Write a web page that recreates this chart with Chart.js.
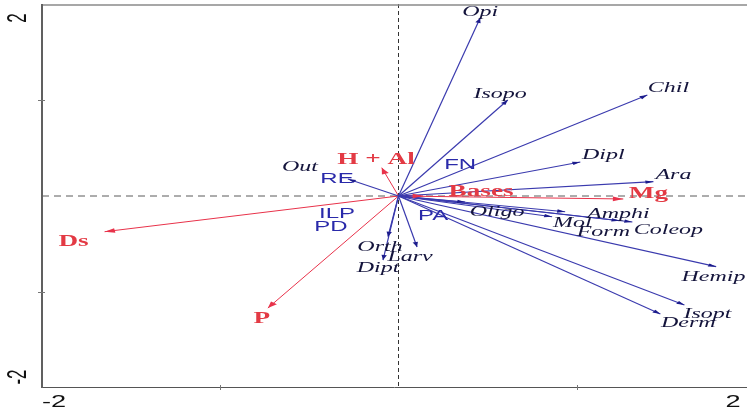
<!DOCTYPE html>
<html>
<head>
<meta charset="utf-8">
<script src="https://cdn.jsdelivr.net/npm/chart.js@4/dist/chart.umd.min.js"></script>
<style>
  html, body { margin: 0; padding: 0; background: #fff; }
  #wrap { width: 747px; height: 411px; }
</style>
</head>
<body>
<div id="wrap"><canvas id="myChart" width="747" height="411"></canvas></div>
<script>
// variáveis ambientais (setas vermelhas)
const envNames = ['Ds', 'P', 'H + Al', 'Bases', 'Mg'];
const envX = [-1.649, -0.733, -0.094, 0.138, 1.261];
const envY = [-0.372, -1.167, 0.295, 0.0, -0.031];
const envLabelX = [-1.823, -0.767, -0.126, 0.463, 1.402];
const envLabelY = [-0.479, -1.281, 0.375, 0.042, 0.021];

// grupos da fauna (setas azuis)
const taxaNames = ['Opi', 'Isopo', 'Chil', 'Dipl', 'Ara', 'Oligo', 'Amphi', 'Mol', 'Form',
                   'Coleop', 'Hemip', 'Isopt', 'Derm', 'Out', 'Orth', 'Dipt', 'Larv'];
const taxaX = [0.458, 0.613, 1.396, 1.020, 1.430, 0.374, 0.935, 0.862, 1.240,
               1.312, 1.782, 1.604, 1.469, -0.284, -0.059, -0.087, 0.104];
const taxaY = [1.854, 1.000, 1.052, 0.354, 0.149, -0.063, -0.164, -0.216, -0.258,
               -0.271, -0.736, -1.135, -1.229, 0.177, -0.424, -0.667, -0.531];
const taxaLabelX = [0.458, 0.570, 1.514, 1.149, 1.542, 0.553, 1.233, 0.975, 1.149,
                    1.514, 1.767, 1.733, 1.626, -0.553, -0.104, -0.115, 0.065];
const taxaLabelY = [1.917, 1.062, 1.125, 0.427, 0.219, -0.167, -0.188, -0.281, -0.375,
                    -0.354, -0.844, -1.229, -1.323, 0.302, -0.531, -0.750, -0.635];

// sistemas de uso (só rótulo)
const siteNames = ['RE', 'FN', 'ILP', 'PD', 'PA'];
const siteX = [-0.345, 0.346, -0.345, -0.379, 0.194];
const siteY = [0.177, 0.323, -0.188, -0.323, -0.208];

// eixos
const xTickValues = [-2, 2];
const xTickLabels = ['-2', '2'];
const yTickValues = [2, -2];
const yTickLabels = ['2', '-2'];
const xMarks = [-1, 1];
const yMarks = [1, -1];

const RED = '#e8324a';
const RED_TXT = '#e33a44';
const BLUE = '#3a3aae';
const BLUE_HEAD = '#1c1c8c';
const TXT_DARK = '#14143c';
const TXT_SITE = '#2a2aaa';
const SX = 1.6; // largura esticada do texto

function drawText(ctx, txt, px, py, font, color, rot) {
    ctx.save();
    ctx.translate(px, py);
    ctx.scale(SX, 1);
    if (rot) ctx.rotate(rot);
    ctx.font = font;
    ctx.fillStyle = color;
    ctx.textAlign = 'center';
    ctx.textBaseline = 'middle';
    ctx.fillText(txt, 0, 0);
    ctx.restore();
}

function drawHead(ctx, x0, y0, x1, y1, color, len, half) {
    const a = Math.atan2(y1 - y0, (x1 - x0) / SX);
    ctx.save();
    ctx.translate(x1, y1);
    ctx.scale(SX, 1);
    ctx.rotate(a);
    ctx.beginPath();
    ctx.moveTo(0, 0);
    ctx.lineTo(-len, -half);
    ctx.lineTo(-len, half);
    ctx.closePath();
    ctx.fillStyle = color;
    ctx.fill();
    ctx.restore();
}

// linhas tracejadas e moldura antes das setas
const framePlugin = {
    id: 'frame',
    beforeDatasetsDraw(chart) {
        const { ctx, chartArea: a, scales: { x, y } } = chart;
        const x0 = x.getPixelForValue(0), y0 = y.getPixelForValue(0);
        ctx.save();
        ctx.lineWidth = 1;
        ctx.strokeStyle = '#5a5a5a';
        ctx.setLineDash([7, 5]);
        ctx.beginPath();
        ctx.moveTo(a.left, y0); ctx.lineTo(a.right, y0);
        ctx.stroke();
        ctx.strokeStyle = '#333';
        ctx.setLineDash([4, 3]);
        ctx.beginPath();
        ctx.moveTo(x0, a.top); ctx.lineTo(x0, a.bottom);
        ctx.stroke();
        ctx.setLineDash([]);

        // moldura
        ctx.strokeStyle = '#8a8a8a';
        ctx.lineWidth = 1.5;
        ctx.beginPath();
        ctx.moveTo(a.left, a.top + 1); ctx.lineTo(a.right, a.top + 1);
        ctx.stroke();
        ctx.strokeStyle = '#555';
        ctx.lineWidth = 1;
        ctx.beginPath();
        ctx.moveTo(a.left, a.bottom - 0.5); ctx.lineTo(a.right, a.bottom - 0.5);
        ctx.stroke();
        ctx.strokeStyle = '#606060';
        ctx.lineWidth = 2;
        ctx.beginPath();
        ctx.moveTo(a.left, a.top); ctx.lineTo(a.left, a.bottom);
        ctx.stroke();

        // marcas dos eixos
        ctx.lineWidth = 1;
        ctx.strokeStyle = '#777';
        xMarks.forEach(v => {
            const px = Math.round(x.getPixelForValue(v)) + 0.5;
            ctx.beginPath(); ctx.moveTo(px, a.bottom - 3); ctx.lineTo(px, a.bottom + 2); ctx.stroke();
        });
        yMarks.forEach(v => {
            const py = Math.round(y.getPixelForValue(v)) + 0.5;
            ctx.beginPath(); ctx.moveTo(a.left - 4, py); ctx.lineTo(a.left + 3, py); ctx.stroke();
        });

        // rótulos dos eixos
        const tickFont = '17px "Liberation Sans", Arial, sans-serif';
        xTickValues.forEach((v, i) => {
            const px = Math.min(Math.max(x.getPixelForValue(v), a.left + 12), a.right - 14);
            drawText(ctx, xTickLabels[i], px, a.bottom + 14, tickFont, '#111');
        });
        yTickValues.forEach((v, i) => {
            const py = Math.min(Math.max(y.getPixelForValue(v), a.top + 14), a.bottom - 11);
            drawText(ctx, yTickLabels[i], 18, py, tickFont, '#111', -Math.PI / 2);
        });
        ctx.restore();
    },
    afterDatasetsDraw(chart) {
        const { ctx, scales: { x, y } } = chart;
        const ox = x.getPixelForValue(0), oy = y.getPixelForValue(0);

        taxaNames.forEach((n, i) => {
            drawHead(ctx, ox, oy, x.getPixelForValue(taxaX[i]), y.getPixelForValue(taxaY[i]), BLUE_HEAD, 5, 1.7);
        });
        envNames.forEach((n, i) => {
            drawHead(ctx, ox, oy, x.getPixelForValue(envX[i]), y.getPixelForValue(envY[i]), RED, 6.5, 2.3);
        });

        const italic = 'italic 15px "Liberation Serif", "Times New Roman", serif';
        taxaNames.forEach((n, i) => {
            drawText(ctx, n, x.getPixelForValue(taxaLabelX[i]), y.getPixelForValue(taxaLabelY[i]), italic, TXT_DARK);
        });
        const bold = 'bold 17px "Liberation Serif", "Times New Roman", serif';
        envNames.forEach((n, i) => {
            drawText(ctx, n, x.getPixelForValue(envLabelX[i]), y.getPixelForValue(envLabelY[i]), bold, RED_TXT);
        });
        const sans = '15px "Liberation Sans", Arial, sans-serif';
        siteNames.forEach((n, i) => {
            drawText(ctx, n, x.getPixelForValue(siteX[i]), y.getPixelForValue(siteY[i]), sans, TXT_SITE);
        });
    }
};

// cada seta é uma linha de dois pontos saindo da origem
const arrowSets = [];
taxaNames.forEach((n, i) => {
    arrowSets.push({
        label: n,
        data: [{ x: 0, y: 0 }, { x: taxaX[i], y: taxaY[i] }],
        showLine: true, borderColor: BLUE, borderWidth: 1.2, pointRadius: 0
    });
});
envNames.forEach((n, i) => {
    arrowSets.push({
        label: n,
        data: [{ x: 0, y: 0 }, { x: envX[i], y: envY[i] }],
        showLine: true, borderColor: RED, borderWidth: 1, pointRadius: 0
    });
});

const chart = new Chart(document.getElementById('myChart').getContext('2d'), {
    type: 'scatter',
    data: { datasets: arrowSets },
    options: {
        responsive: false,
        animation: false,
        devicePixelRatio: 1,
        layout: { padding: { left: 42, right: 0, top: 4, bottom: 23 } },
        plugins: { legend: { display: false }, tooltip: { enabled: false } },
        scales: {
            x: { type: 'linear', min: -2, max: 1.955, display: false },
            y: { type: 'linear', min: -2, max: 2, display: false }
        }
    },
    plugins: [framePlugin]
});
</script>
</body>
</html>
